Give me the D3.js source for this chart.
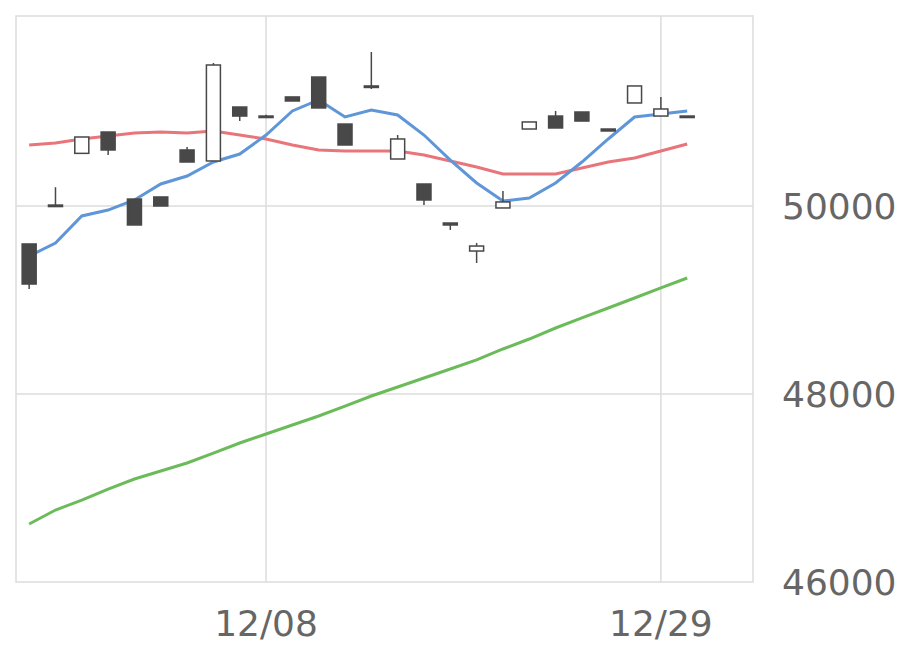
<!DOCTYPE html><html><head><meta charset="utf-8"><script src="https://cdn.jsdelivr.net/npm/d3@7"></script>
<style>body{margin:0;background:#fff}</style></head><body><svg id="c" width="920" height="669"></svg>
<script>
const dates=["11/25","11/26","11/27","11/28","12/01","12/02","12/03","12/04","12/05","12/08","12/09","12/10","12/11","12/12","12/15","12/16","12/17","12/18","12/19","12/22","12/23","12/24","12/25","12/26","12/29","12/30"];
const open=[49596,50010,50560,50787,50074,50096,50596,50479,51053,50957,51160,51372,50872,51277,50500,50234,49819,49521,49979,50819,50957,51000,50819,51096,50957,50957];
const close=[49170,50010,50734,50596,49798,50000,50468,51500,50957,50957,51117,51043,50649,51277,50713,50064,49798,49574,50043,50894,50830,50904,50798,51277,51032,50957];
const high=[49596,50200,50734,50787,50074,50096,50628,51521,51053,50970,51160,51372,50872,51638,50755,50234,49819,49606,50160,50894,51011,51000,50819,51277,51160,50957];
const low=[49117,50010,50560,50543,49798,50000,50468,50479,50904,50945,51117,51043,50649,51245,50500,50010,49745,49394,49979,50819,50830,50904,50798,51096,50957,50957];
const ma5=[49468,49606,49894,49957,50064,50234,50319,50468,50553,50755,51011,51128,50947,51021,50968,50755,50489,50245,50053,50085,50245,50468,50713,50947,50979,51011];
const ma25=[50649,50670,50713,50745,50777,50787,50777,50798,50755,50713,50649,50596,50585,50585,50585,50543,50479,50415,50340,50340,50340,50404,50468,50511,50585,50660];
const ma75=[46617,46766,46872,46989,47096,47181,47266,47372,47479,47574,47670,47766,47872,47979,48074,48170,48266,48362,48479,48585,48702,48809,48915,49021,49128,49234];
const xTicks=["12/08","12/29"];
const yTicks=[46000,48000,50000];

const svg=d3.select("#c");
const x=d3.scaleLinear().domain([-0.5,27.5]).range([16,753]);
const y=d3.scaleLinear().domain([46000,52000]).range([582,18]);
const grid="#dcdcdc";
svg.append("rect").attr("x",16).attr("y",16).attr("width",737).attr("height",566).attr("fill","none").attr("stroke",grid).attr("stroke-width",1.5);
yTicks.slice(1).forEach(t=>svg.append("line").attr("x1",16).attr("x2",753).attr("y1",y(t)).attr("y2",y(t)).attr("stroke",grid).attr("stroke-width",1.5));
xTicks.forEach(t=>{const i=dates.indexOf(t);svg.append("line").attr("x1",x(i)).attr("x2",x(i)).attr("y1",16).attr("y2",582).attr("stroke",grid).attr("stroke-width",1.5);
 svg.append("text").attr("x",x(i)).attr("y",636).attr("text-anchor","middle").attr("font-family","DejaVu Sans").attr("font-size",36).attr("fill","#666").text(t);});
yTicks.forEach(t=>svg.append("text").attr("x",782).attr("y",y(t)+13).attr("font-family","DejaVu Sans").attr("font-size",36).attr("fill","#666").text(t));
const line=d=>d3.line().x((v,i)=>x(i)).y(v=>y(v))(d);
[[ma75,"#6cbb5a"],[ma25,"#e8757a"],[ma5,"#5e96d8"]].forEach(([d,c])=>svg.append("path").attr("d",line(d)).attr("fill","none").attr("stroke",c).attr("stroke-width",3));
const col="#484848";
dates.forEach((d,i)=>{
 const cx=x(i),o=open[i],c=close[i];
 svg.append("line").attr("x1",cx).attr("x2",cx).attr("y1",y(high[i])).attr("y2",y(low[i])).attr("stroke",col).attr("stroke-width",1.5);
 const top=y(Math.max(o,c)),bot=y(Math.min(o,c));
 svg.append("rect").attr("x",cx-7).attr("width",14).attr("y",top).attr("height",Math.max(bot-top,1.5))
  .attr("fill",c>o?"#fff":col).attr("stroke",col).attr("stroke-width",1.5);
});
</script></body></html>
